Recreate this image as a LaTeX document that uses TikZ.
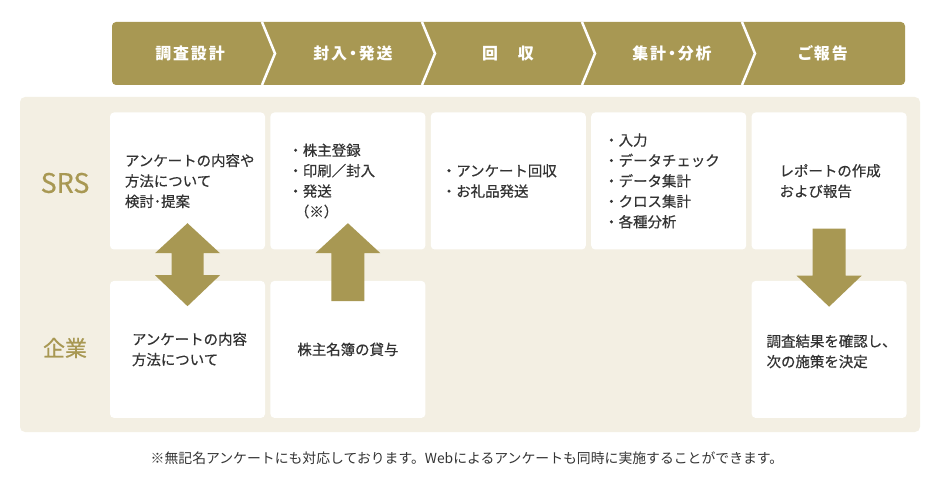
\documentclass[tikz,border=0pt]{standalone}
\usepackage{fontspec}
\setmainfont{Noto Sans CJK JP}
\newfontfamily\headfont{Noto Sans CJK JP}[LetterSpace=12,RawFeature=+palt]
\newfontfamily\bodyfont{Noto Sans CJK JP}[FakeBold=0.5]
\usetikzlibrary{positioning}
\definecolor{olive}{HTML}{A89853}
\definecolor{panel}{HTML}{F3EFE3}
\definecolor{ink}{HTML}{333333}
\tikzset{
  box/.style={fill=white,rounded corners=4bp,minimum width=155bp,minimum height=137bp,inner sep=0pt},
  txt/.style={anchor=west,align=left,inner sep=0pt,text=ink,font=\bodyfont\fontsize{14.5}{20.5}\selectfont},
  head/.style={text=white,font=\headfont\bfseries\fontsize{16}{16}\selectfont},
  rowlabel/.style={text=olive},
  blockarrow/.style={fill=olive},
}
\begin{document}
\begin{tikzpicture}[x=1bp,y=-1bp]
\useasboundingbox (0,0) rectangle (942,501);
% steps
\fill[olive,rounded corners=4bp] (112,22) rectangle (905,85);
\foreach \x in {262,422,582,742}{\draw[white,line width=2.5bp](\x,22)--(\x+13,53.5)--(\x,85);}
\foreach \x/\s [count=\i] in {190/調査設計,353/封入・発送,508/回　収,672/集計・分析,823/ご報告}{\node[head](h\i) at (\x,53.5){\s};}
% panel
\fill[panel,rounded corners=5bp] (20,97) rectangle (920,432);
\node[rowlabel,font=\bodyfont\fontsize{27}{27}\selectfont](srs) at (65,183){SRS};
\node[rowlabel,font=\bodyfont\fontsize{22}{22}\selectfont](corp) at (65,348){企業};
% SRS row
\node[box](s1) at (187.5,181){};
\node[box,right=5bp of s1](s2){};
\node[box,right=5bp of s2](s3){};
\node[box,right=5bp of s3](s4){};
\node[box,right=5bp of s4](s5){};
% company row
\node[box,below=31bp of s1](e1){};
\node[box,below=31bp of s2](e2){};
\node[box,below=31bp of s5](e5){};
% texts
\node[txt](s1t) at ([xshift=15bp]s1.west){アンケートの内容や\\方法について\\検討･提案};
\node[txt](s2t) at ([xshift=18bp]s2.west){・株主登録\\・印刷／封入\\・発送\\\hspace{0.45em}（※）};
\node[txt](s3t) at ([xshift=11bp]s3.west){・アンケート回収\\・お礼品発送};
\node[txt](s4t) at ([xshift=13bp]s4.west){・入力\\・データチェック\\・データ集計\\・クロス集計\\・各種分析};
\node[txt](s5t) at ([xshift=28bp]s5.west){レポートの作成\\および報告};
\node[txt](e1t) at ([xshift=22bp]e1.west){アンケートの内容\\方法について};
\node[txt,anchor=center](e2t) at (e2){株主名簿の貸与};
\node[txt](e5t) at ([xshift=15bp,yshift=-2bp]e5.west){調査結果を確認し、\\次の施策を決定};
% arrows
\fill[blockarrow](s1.south)++(0,-26.5)--++(32.5,30)--++(-16.5,0)--++(0,22)--++(16.5,0)--++(-32.5,31)--++(-32.5,-31)--++(16.5,0)--++(0,-22)--++(-16.5,0)--cycle;
\fill[blockarrow](s2.south)++(0,-26.5)--++(32.5,30)--++(-16,0)--++(0,48)--++(-33,0)--++(0,-48)--++(-16,0)--cycle;
\fill[blockarrow](e5.north)++(0,26)--++(32.5,-31)--++(-16,0)--++(0,-47)--++(-33,0)--++(0,47)--++(-16,0)--cycle;
% note
\node[text=ink,font=\fontsize{13.9}{14}\selectfont](note) at (467,458){※無記名アンケートにも対応しております。Webによるアンケートも同時に実施することができます。};
\end{tikzpicture}
\end{document}
